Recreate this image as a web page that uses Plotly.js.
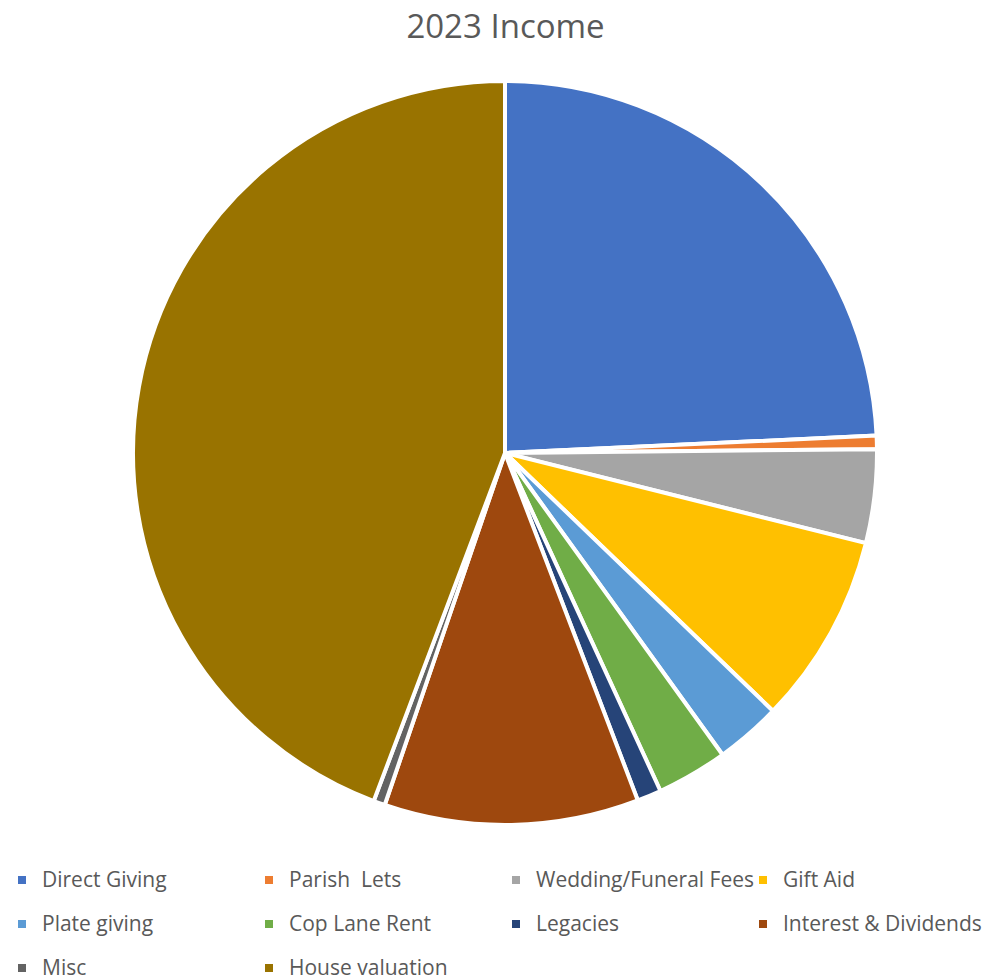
<!DOCTYPE html>
<html>
<head>
<meta charset="utf-8">
<script src="https://cdn.plot.ly/plotly-3.0.1.min.js"></script>
<style>html,body{margin:0;padding:0;background:#fff;}#chart{width:1007px;height:979px;}</style>
</head>
<body>
<div id="chart"></div>
<script>
const categories = ["Direct Giving", "Parish  Lets", "Wedding/Funeral Fees", "Gift Aid",
  "Plate giving", "Cop Lane Rent", "Legacies", "Interest & Dividends", "Misc", "House valuation"];
const values = [24.25, 0.58, 4.06, 8.3, 2.86, 3.08, 1.05, 11.05, 0.5, 44.25];
const colors = ["#4472C4", "#ED7D31", "#A5A5A5", "#FFC000", "#5B9BD5", "#70AD47",
  "#264478", "#9E480E", "#636363", "#997300"];

const W = 1007, H = 979;
const legendLabels = categories.map(c => '<span style="font-size:21px;baseline-shift:5px">' +
  c.replace(/&/g, '&amp;').replace(/  /g, ' &nbsp;') + '</span>');
const trace = {
  type: "pie",
  labels: legendLabels,
  values: values,
  sort: false,
  direction: "clockwise",
  rotation: 0,
  textinfo: "none",
  hoverinfo: "label+percent",
  marker: { colors: colors, line: { color: "#ffffff", width: 4 } },
  domain: { x: [133 / W, 877 / W], y: [1 - 825 / H, 1 - 81 / H] }
};
const layout = {
  width: W, height: H,
  margin: { l: 0, r: 0, t: 0, b: 0, autoexpand: false },
  paper_bgcolor: "#ffffff",
  title: { text: "2023 Income", font: { family: "Open Sans, Liberation Sans, sans-serif", size: 33, color: "#595959" },
           x: 0.502, xanchor: "center", y: 1 - 26 / H, yanchor: "middle" },
  showlegend: true,
  legend: {
    orientation: "h",
    x: 2 / W, xanchor: "left", y: 1 - 853 / H, yanchor: "top",
    entrywidth: 202, entrywidthmode: "pixels",
    font: { family: "Open Sans, Liberation Sans, sans-serif", size: 31.5, color: "#595959" },
    traceorder: "normal", bgcolor: "rgba(0,0,0,0)"
  }
};
Plotly.newPlot("chart", [trace], layout, { displayModeBar: false, staticPlot: true });
</script>
</body>
</html>
